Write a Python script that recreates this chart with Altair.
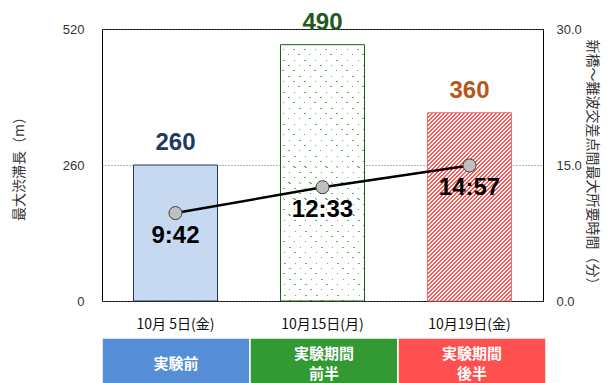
import altair as alt
import pandas as pd

# ---- data ----------------------------------------------------------------
dates = ["10月 5日(金)", "10月15日(月)", "10月19日(金)"]
queue_m = [260, 490, 360]                     # 最大渋滞長 (m)
travel = ["9:42", "12:33", "14:57"]           # 最大所要時間 (分:秒)
phases = ["実験前", "実験期間\n前半", "実験期間\n後半"]

value_colors = ["#1F3864", "#1E5C1E", "#B5581A"]
phase_colors = ["#558ED5", "#339933", "#FF5050"]

minutes = [int(m) + int(s) / 60 for m, s in (t.split(":") for t in travel)]

df = pd.DataFrame({
    "date": dates,
    "queue": queue_m,
    "time": travel,
    "minutes": minutes,
    "phase": phases,
    "lines": [p.count("\n") + 1 for p in phases],
})

# ---- geometry --------------------------------------------------------------
PLOT_W, PLOT_H = 441, 272
Q_MAX, T_MAX = 520, 30
BAR_W = 84
JP = "Noto Sans CJK JP"
NUM = "Liberation Sans"


def stripes(n, first, second, frac):
    """Gradient stops giving n sharp bands: `first` over `frac` of each period."""
    stops = []
    for i in range(n):
        a, b, c = i / n, (i + frac) / n, (i + 1) / n
        stops += [
            {"offset": a, "color": first},
            {"offset": b, "color": first},
            {"offset": b, "color": second},
            {"offset": c, "color": second},
        ]
    return stops


def diagonal(w, h, rising):
    """Bounding-box gradient vector whose bands run at 45 degrees on screen."""
    r = h / w
    k = (1 + r) / (1 + r * r)
    if rising:   # bands like ////
        return {"x1": 0, "y1": 0, "x2": k, "y2": k * r}
    return {"x1": 0, "y1": 1, "x2": k, "y2": 1 - k * r}   # bands like \\\\


# diagonal hatching for the third bar
h3 = PLOT_H * queue_m[2] / Q_MAX
hatch = {
    "gradient": "linear",
    **diagonal(BAR_W, h3, True),
    "stops": stripes(int(round((BAR_W + h3) / 4.0)), "#FF5656", "#FFFFFF", 0.5),
}

# staggered dot texture for the second bar:
# thin green rows, masked by white except along diagonal gaps
h2 = PLOT_H * queue_m[1] / Q_MAX
dot_rows = {
    "gradient": "linear",
    "x1": 0, "y1": 0, "x2": 0, "y2": 1,
    "stops": stripes(int(round(h2 / 5.3)), "#FFFFFF", "#5DB65D", 0.8),
}
dot_mask = {
    "gradient": "linear",
    **diagonal(BAR_W, h2, False),
    "stops": stripes(int(round((BAR_W + h2) / 10.6)), "#FFFFFF",
                     "rgba(255,255,255,0)", 0.86),
}

# ---- encodings -------------------------------------------------------------
x_enc = alt.X(
    "date:N", sort=dates,
    scale=alt.Scale(paddingInner=0, paddingOuter=0),
    axis=alt.Axis(title=None, labelAngle=0, ticks=False, domain=False,
                  labelFont=JP, labelFontSize=14, labelColor="#111111",
                  labelPadding=16),
)

y_left = alt.Y(
    "queue:Q",
    scale=alt.Scale(domain=[0, Q_MAX], nice=False, zero=True),
    axis=alt.Axis(values=[0, 260, 520], title="最大渋滞長（m）",
                  titleFont=JP, titleFontSize=14, titleFontWeight="normal",
                  titleColor="#333333", titleX=-83, titleY=PLOT_H / 2,
                  titleBaseline="middle", titleAngle=-90,
                  labelFont=NUM, labelFontSize=13, labelColor="#333333",
                  labelPadding=18, ticks=False, domain=False,
                  grid=True, gridDash=[1, 2], gridColor="#666666"),
)

y_right = alt.Y(
    "minutes:Q",
    scale=alt.Scale(domain=[0, T_MAX], nice=False, zero=True),
    axis=alt.Axis(orient="right", values=[0, 15, 30], format=".1f",
                  title="新橋～難波交差点間最大所要時間（分）",
                  titleFont=JP, titleFontSize=14, titleFontWeight="normal",
                  titleColor="#333333", titleX=48, titleY=PLOT_H / 2,
                  titleBaseline="middle", titleAngle=90,
                  labelFont=NUM, labelFontSize=13, labelColor="#333333",
                  labelPadding=13, ticks=False, domain=False, grid=False),
)

base = alt.Chart(df).encode(x=x_enc)

bar1 = base.transform_filter(alt.datum.date == dates[0]).mark_bar(
    width=BAR_W, fill="#C6D9F1", stroke="#1F3864", strokeWidth=1
).encode(y=y_left)

bar2_rows = base.transform_filter(alt.datum.date == dates[1]).mark_bar(
    width=BAR_W, fill=dot_rows, strokeWidth=0
).encode(y=y_left)

bar2_mask = base.transform_filter(alt.datum.date == dates[1]).mark_bar(
    width=BAR_W, fill=dot_mask, stroke="#1E5C1E", strokeWidth=1
).encode(y=y_left)

bar3 = base.transform_filter(alt.datum.date == dates[2]).mark_bar(
    width=BAR_W, fill=hatch, stroke="#F07070", strokeWidth=1
).encode(y=y_left)

bar_labels = base.mark_text(
    dy=-22, font=NUM, fontSize=24, fontWeight="bold"
).encode(
    y=y_left,
    text="queue:Q",
    color=alt.Color("date:N", scale=alt.Scale(domain=dates, range=value_colors),
                    legend=None),
)

bars = alt.layer(bar1, bar2_rows, bar2_mask, bar3, bar_labels)

line = base.mark_line(color="black", strokeWidth=2.5).encode(y=y_right)
dots = base.mark_circle(
    size=170, color="#BFBFBF", stroke="#404040", strokeWidth=1, opacity=1
).encode(y=y_right)
time_labels = base.mark_text(
    dy=23, font=NUM, fontSize=24, fontWeight="bold", color="black"
).encode(y=y_right, text="time:N")

times = alt.layer(line, dots, time_labels)

top = alt.layer(bars, times).resolve_scale(y="independent").properties(
    width=PLOT_W, height=PLOT_H
)

# ---- phase strip under the dates ------------------------------------------
strip_base = alt.Chart(df).encode(
    x=alt.X("date:N", sort=dates, axis=None,
            scale=alt.Scale(paddingInner=0, paddingOuter=0))
)
strip_rect = strip_base.mark_rect(stroke="white", strokeWidth=1.5).encode(
    color=alt.Color("phase:N", scale=alt.Scale(domain=phases, range=phase_colors),
                    legend=None)
)
text_style = dict(color="white", font=JP, fontSize=15, fontWeight="bold",
                  lineBreak="\n", lineHeight=20)
strip_text_one = strip_base.transform_filter(alt.datum.lines == 1).mark_text(
    dy=2.5, **text_style
).encode(text="phase:N")
strip_text_two = strip_base.transform_filter(alt.datum.lines == 2).mark_text(
    dy=-7.5, **text_style
).encode(text="phase:N")

strip = alt.layer(strip_rect, strip_text_one, strip_text_two).properties(
    width=PLOT_W + 3, height=47,
    view=alt.ViewBackground(stroke="transparent"),
)

chart = alt.vconcat(top, strip, spacing=4).resolve_scale(
    color="independent", x="independent"
).properties(
    padding={"left": 11, "top": 10, "right": 8, "bottom": 0},
    background="white",
).configure_view(stroke="#000000", strokeWidth=1)

chart.save("out.html", embed_options={"renderer": "svg", "actions": False})
